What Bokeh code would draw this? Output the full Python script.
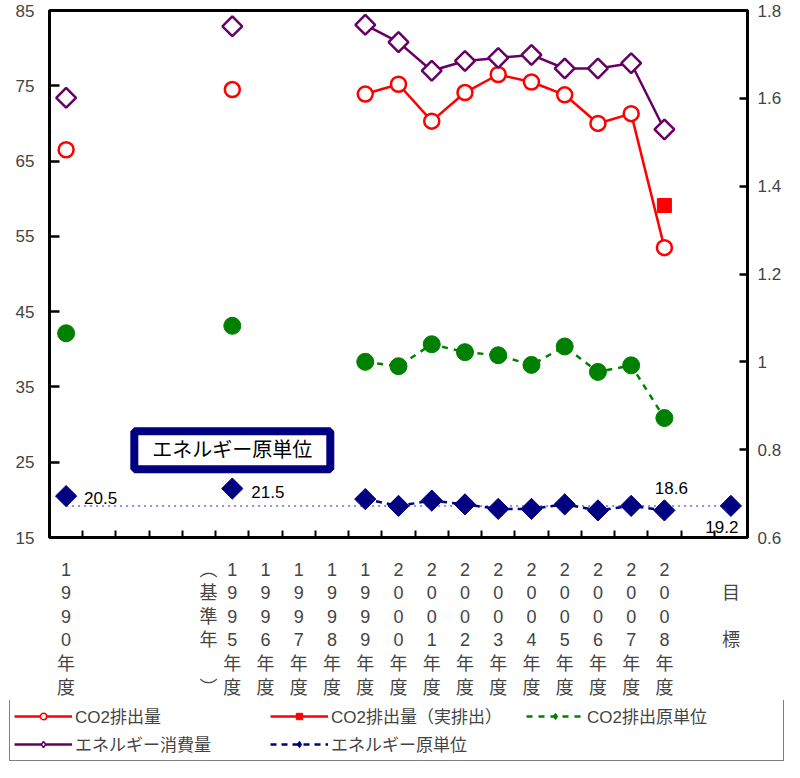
import math
from bokeh.plotting import figure
from bokeh.layouts import column
from bokeh.models import (Range1d, LinearAxis, FixedTicker, Legend, LegendItem,
                          Label, ColumnDataSource)
from bokeh.embed import file_html
from bokeh.resources import INLINE

NaN = float("nan")

# ---------------- data ----------------
categories = ["1990年度", "", "", "", "", "1995年度", "1996年度", "1997年度", "1998年度",
              "1999年度", "2000年度", "2001年度", "2002年度", "2003年度", "2004年度",
              "2005年度", "2006年度", "2007年度", "2008年度", "", "目標"]
base_year_note = ["︵", "基", "準", "年", "", "︶"]   # （基準年） written vertically

co2_emission = [66.5, NaN, NaN, NaN, NaN, 74.5, NaN, NaN, NaN, 73.9, 75.2, 70.3, 74.1,
                76.5, 75.5, 73.8, 70.0, 71.3, 53.5, NaN, NaN]
co2_actual = [NaN] * 18 + [59.1, NaN, NaN]
co2_intensity = [1.065, NaN, NaN, NaN, NaN, 1.082, NaN, NaN, NaN, 1.0, 0.99, 1.04, 1.022,
                 1.015, 0.993, 1.035, 0.977, 0.992, 0.872, NaN, NaN]
energy_use = [73.4, NaN, NaN, NaN, NaN, 82.9, NaN, NaN, NaN, 83.1, 80.8, 77.0, 78.3,
              78.7, 79.1, 77.3, 77.3, 78.0, 69.2, NaN, NaN]
energy_intensity = [20.5, NaN, NaN, NaN, NaN, 21.5, NaN, NaN, NaN, 20.1, 19.2, 19.9, 19.4,
                    18.8, 18.8, 19.4, 18.6, 19.2, 18.6, NaN, 19.2]

left_ticks = [15, 25, 35, 45, 55, 65, 75, 85]
right_ticks = [0.6, 0.8, 1.0, 1.2, 1.4, 1.6, 1.8]

series_names = ["CO2排出量", "CO2排出量（実排出）", "CO2排出原単位", "エネルギー消費量", "エネルギー原単位"]
box_title = "エネルギー原単位"

# ---------------- style ----------------
RED = "#ff0000"
GREEN = "#008000"
PURPLE = "#660066"
NAVY = "#000080"
TARGET = "#6a6ad8"
FONT = "'Liberation Sans', 'Noto Sans CJK JP'"

n = len(categories)
xs = [i + 0.5 for i in range(n)]
note_x = xs[5] - 0.72

src = ColumnDataSource(dict(x=xs, co2=co2_emission, act=co2_actual, ci=co2_intensity,
                            eu=energy_use, ei=energy_intensity))

p = figure(width=784, height=700, x_range=Range1d(0, n), y_range=Range1d(left_ticks[0], left_ticks[-1]),
           output_backend="svg", toolbar_location=None,
           min_border_left=49, min_border_right=35, min_border_top=10, min_border_bottom=158)
p.frame_align = False
p.extra_y_ranges = {"r": Range1d(right_ticks[0], right_ticks[-1])}
p.xgrid.visible = False
p.ygrid.visible = False
p.outline_line_color = "black"
p.outline_line_width = 3
p.background_fill_color = "white"
p.border_fill_color = "white"

# left axis
ya = p.yaxis[0]
ya.ticker = FixedTicker(ticks=left_ticks)
ya.axis_line_width = 3
ya.major_tick_in = 10
ya.major_tick_out = 0
ya.major_tick_line_width = 2.5
ya.minor_tick_line_color = None
ya.major_label_text_font = FONT
ya.major_label_text_font_size = "17px"
ya.major_label_standoff = 15

# right axis
ra = LinearAxis(y_range_name="r", ticker=FixedTicker(ticks=right_ticks))
ra.axis_line_width = 3
ra.major_tick_in = 8
ra.major_tick_out = 0
ra.major_tick_line_width = 2.5
ra.minor_tick_line_color = None
ra.major_label_text_font = FONT
ra.major_label_text_font_size = "17px"
ra.major_label_standoff = 10
ra.major_label_overrides = {1.0: "1"}
p.add_layout(ra, "right")

# x axis (labels at category centres, small ticks at category boundaries)
xa = p.xaxis[0]
xa.ticker = FixedTicker(ticks=sorted(xs + [note_x]), minor_ticks=list(range(1, n)))
overrides = {x: "\n".join(list(c)) for x, c in zip(xs, categories)}
overrides[xs[-1]] = "\n" + "\n\n".join(list(categories[-1]))
overrides[note_x] = "\n".join(base_year_note)
xa.major_label_overrides = overrides
xa.axis_line_width = 3
xa.major_tick_line_color = None
xa.minor_tick_in = 7
xa.minor_tick_out = 0
xa.minor_tick_line_width = 2
xa.minor_tick_line_color = "black"
xa.major_label_text_font = FONT
xa.major_label_text_font_size = "18px"
xa.major_label_text_line_height = 1.18
xa.major_label_standoff = 16

# ---------------- glyphs ----------------
tgt = energy_intensity[-1]
p.line([xs[0], xs[-1]], [tgt, tgt], line_color=TARGET, line_width=1.5, line_dash="2 4")

co2_l = p.line("x", "co2", source=src, line_color=RED, line_width=2.5)
co2_s = p.scatter("x", "co2", source=src, marker="circle", size=15, line_color=RED,
                  line_width=2.5, fill_color="white")
act_s = p.scatter("x", "act", source=src, marker="square", size=14, line_color=RED,
                  fill_color=RED)
ci_l = p.line("x", "ci", source=src, y_range_name="r", line_color=GREEN, line_width=2.5,
              line_dash="6 6")
ci_s = p.scatter("x", "ci", source=src, y_range_name="r", marker="circle", size=17,
                 line_color=GREEN, fill_color=GREEN)
eu_l = p.line("x", "eu", source=src, line_color=PURPLE, line_width=2.5)
eu_s = p.scatter("x", "eu", source=src, marker="square", angle=math.pi / 4, size=14,
                 line_color=PURPLE, line_width=2.5, fill_color="white")
ei_l = p.line("x", "ei", source=src, line_color=NAVY, line_width=2.5, line_dash="6 5")
ei_s = p.scatter("x", "ei", source=src, marker="square", angle=math.pi / 4, size=15,
                 line_color=NAVY, fill_color=NAVY)

# ---------------- labels ----------------
def num_label(i, dx, dy, align):
    p.add_layout(Label(x=xs[i], y=energy_intensity[i], text=f"{energy_intensity[i]:.1f}",
                       x_offset=dx, y_offset=dy, text_align=align, text_baseline="middle",
                       text_font=FONT, text_font_size="17px", text_color="black"))

num_label(0, 18, -2, "left")
num_label(5, 19, -3, "left")
num_label(18, 7, 22, "center")
num_label(20, -9, -21, "center")

p.add_layout(Label(x=xs[5], y=26.6, text=box_title, text_align="center", text_baseline="middle",
                   text_font=FONT, text_font_size="20px", text_color="black",
                   border_line_color=NAVY, border_line_width=8, background_fill_color="white",
                   padding=dict(left=18, right=18, top=8, bottom=8)))

# ---------------- legend (own strip below the chart) ----------------
lg = figure(width=784, height=62, x_range=Range1d(0, 1), y_range=Range1d(0, 1),
            x_axis_location=None, y_axis_location=None,
            output_backend="svg", toolbar_location=None, min_border=0)
lg.frame_align = False
lg.xgrid.visible = False
lg.ygrid.visible = False
lg.outline_line_color = None
lg.border_fill_color = "white"

def dummy_line(**kw):
    return lg.line([NaN], [NaN], line_width=2.5, **kw)

def dummy_pt(**kw):
    return lg.scatter([NaN], [NaN], **kw)

items = [
    LegendItem(label=series_names[0], renderers=[
        dummy_line(line_color=RED),
        dummy_pt(marker="circle", size=9, line_color=RED, line_width=1.5, fill_color="white")]),
    LegendItem(label=series_names[1], renderers=[
        dummy_line(line_color=RED),
        dummy_pt(marker="square", size=9, line_color=RED, fill_color=RED)]),
    LegendItem(label=series_names[2], renderers=[
        dummy_line(line_color=GREEN, line_dash="6 6"),
        dummy_pt(marker="diamond", size=12, line_color=GREEN, fill_color=GREEN)]),
    LegendItem(label=series_names[3], renderers=[
        dummy_line(line_color=PURPLE),
        dummy_pt(marker="diamond", size=12, line_color=PURPLE, line_width=1.5, fill_color="white")]),
    LegendItem(label=series_names[4], renderers=[
        dummy_line(line_color=NAVY, line_dash="6 5"),
        dummy_pt(marker="diamond", size=12, line_color=NAVY, fill_color=NAVY)]),
]
legend = Legend(items=items, orientation="horizontal", ncols=3, location=(9, 1),
                glyph_width=58, glyph_height=16, label_width=192, label_height=20,
                label_standoff=3, spacing=3, padding=4, margin=0,
                label_text_font=FONT, label_text_font_size="17px",
                border_line_color="black", border_line_width=1.5,
                background_fill_color="white")
lg.add_layout(legend)

layout = column(p, lg, spacing=0)
open("out.html", "w").write(file_html(layout, INLINE))
